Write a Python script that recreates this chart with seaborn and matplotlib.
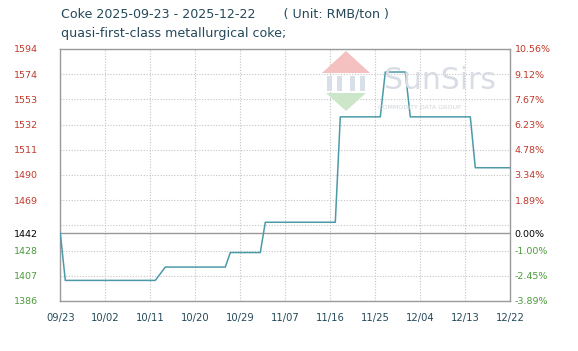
import matplotlib
matplotlib.use("Agg")
import matplotlib.pyplot as plt
from matplotlib.patches import Polygon, Rectangle
import seaborn as sns
import pandas as pd
import numpy as np

# ---- data ----
dates = ["2025-09-23", "2025-09-24", "2025-10-12", "2025-10-14", "2025-10-26",
         "2025-10-27", "2025-11-02", "2025-11-03", "2025-11-17", "2025-11-18",
         "2025-11-26", "2025-11-27", "2025-12-01", "2025-12-02", "2025-12-14",
         "2025-12-15", "2025-12-22"]
prices = [1442, 1403, 1403, 1414, 1414, 1426, 1426, 1451, 1451, 1538,
          1538, 1575, 1575, 1538, 1538, 1496, 1496]

x_tick_dates = ["2025-09-23", "2025-10-02", "2025-10-11", "2025-10-20", "2025-10-29",
                "2025-11-07", "2025-11-16", "2025-11-25", "2025-12-04", "2025-12-13",
                "2025-12-22"]
x_tick_labels = ["09/23", "10/02", "10/11", "10/20", "10/29", "11/07", "11/16",
                 "11/25", "12/04", "12/13", "12/22"]

base_price = 1442
y_min, y_max = 1386, 1594
left_labels = ["1386", "1407", "1428", "", "1469", "1490", "1511", "1532", "1553", "1574", "1594"]
right_labels = ["-3.89%", "-2.45%", "-1.00%", "", "1.89%", "3.34%", "4.78%", "6.23%",
                "7.67%", "9.12%", "10.56%"]

title_line1 = "Coke 2025-09-23 - 2025-12-22       ( Unit: RMB/ton )"
title_line2 = "quasi-first-class metallurgical coke;"

RED = "#c0392b"
GREEN = "#4c9a3c"
TEXT = "#24495a"

df = pd.DataFrame({"date": pd.to_datetime(dates), "price": prices})

sns.set_theme(style="white")
plt.rcParams['font.family'] = ['DejaVu Sans']

fig = plt.figure(figsize=(5.78, 3.51), dpi=100)
ax = fig.add_axes([60.3 / 578, 1 - 301 / 351, 450 / 578, 252 / 351])

# watermark (drawn under the axes content)
W, H = 578, 351
def fx(px):
    return px / W
def fy(py):
    return 1 - py / H
fig.patches.append(Polygon([(fx(322), fy(73)), (fx(346), fy(51)), (fx(370), fy(73))],
                           closed=True, transform=fig.transFigure, facecolor="#f4c0c0",
                           edgecolor="none", zorder=0))
fig.patches.append(Polygon([(fx(326), fy(93)), (fx(366), fy(93)), (fx(346), fy(111))],
                           closed=True, transform=fig.transFigure, facecolor="#cce6ca",
                           edgecolor="none", zorder=0))
for (x0, w) in [(327, 5), (337, 5), (350, 5), (360, 5)]:
    fig.patches.append(Rectangle((fx(x0), fy(91)), w / W, 15 / H, transform=fig.transFigure,
                                 facecolor="#d9dfe8", edgecolor="none", zorder=0))
fig.text(fx(384), fy(89), "SunSirs", fontsize=21.5, color="#d8dde5", ha="left",
         va="baseline", zorder=0)
fig.text(fx(378), fy(109), "COMMODITY DATA GROUP", fontsize=4.6, color="#d0d4d8",
         ha="left", va="baseline", zorder=0)
ax.set_facecolor("none")

sns.lineplot(data=df, x="date", y="price", ax=ax, color="#4b9aa8", linewidth=1.1,
             estimator=None, zorder=5)

ax.set_xlim(pd.Timestamp(dates[0]), pd.Timestamp(dates[-1]))
ax.set_ylim(y_min, y_max)

grid_vals = np.linspace(y_min, y_max, 11)
ax.set_yticks(grid_vals)
ax.set_yticklabels(left_labels)
ax.set_yticks([base_price], minor=True)
ax.set_yticklabels([str(base_price)], minor=True)
for lab, v in zip(ax.get_yticklabels(), grid_vals):
    lab.set_color(RED if v > base_price else GREEN)
for lab in ax.get_yticklabels(minor=True):
    lab.set_color("black")

ax.set_xticks(pd.to_datetime(x_tick_dates))
ax.set_xticklabels(x_tick_labels)

ax.grid(True, which="major", linestyle=(0, (1, 1.5)), color="#c4c4c4", linewidth=0.8)
ax.grid(True, which="minor", axis="y", linestyle="-", color="#999999", linewidth=1.0)
ax.tick_params(axis="y", which="both", length=0, pad=16, labelsize=6.8)
ax.tick_params(axis="x", length=0, pad=9, labelsize=7.2, labelcolor=TEXT)
ax.set_xlabel("")
ax.set_ylabel("")

for s in ax.spines.values():
    s.set_color("#9a9a9a")
    s.set_linewidth(1.0)

ax2 = ax.twinx()
ax2.set_ylim(y_min, y_max)
ax2.set_yticks(grid_vals)
ax2.set_yticklabels(right_labels)
ax2.set_yticks([base_price], minor=True)
ax2.set_yticklabels(["0.00%"], minor=True)
for lab, v in zip(ax2.get_yticklabels(), grid_vals):
    lab.set_color(RED if v > base_price else GREEN)
for lab in ax2.get_yticklabels(minor=True):
    lab.set_color("black")
ax2.tick_params(axis="y", which="both", length=0, pad=3, labelsize=6.8)
ax2.grid(False)
for s in ax2.spines.values():
    s.set_visible(False)

fig.text(fx(61), fy(17.3), title_line1, fontsize=9.1, color=TEXT, ha="left", va="baseline")
fig.text(fx(61), fy(36.7), title_line2, fontsize=9.1, color=TEXT, ha="left", va="baseline")

fig.savefig("out.png", dpi=100)
